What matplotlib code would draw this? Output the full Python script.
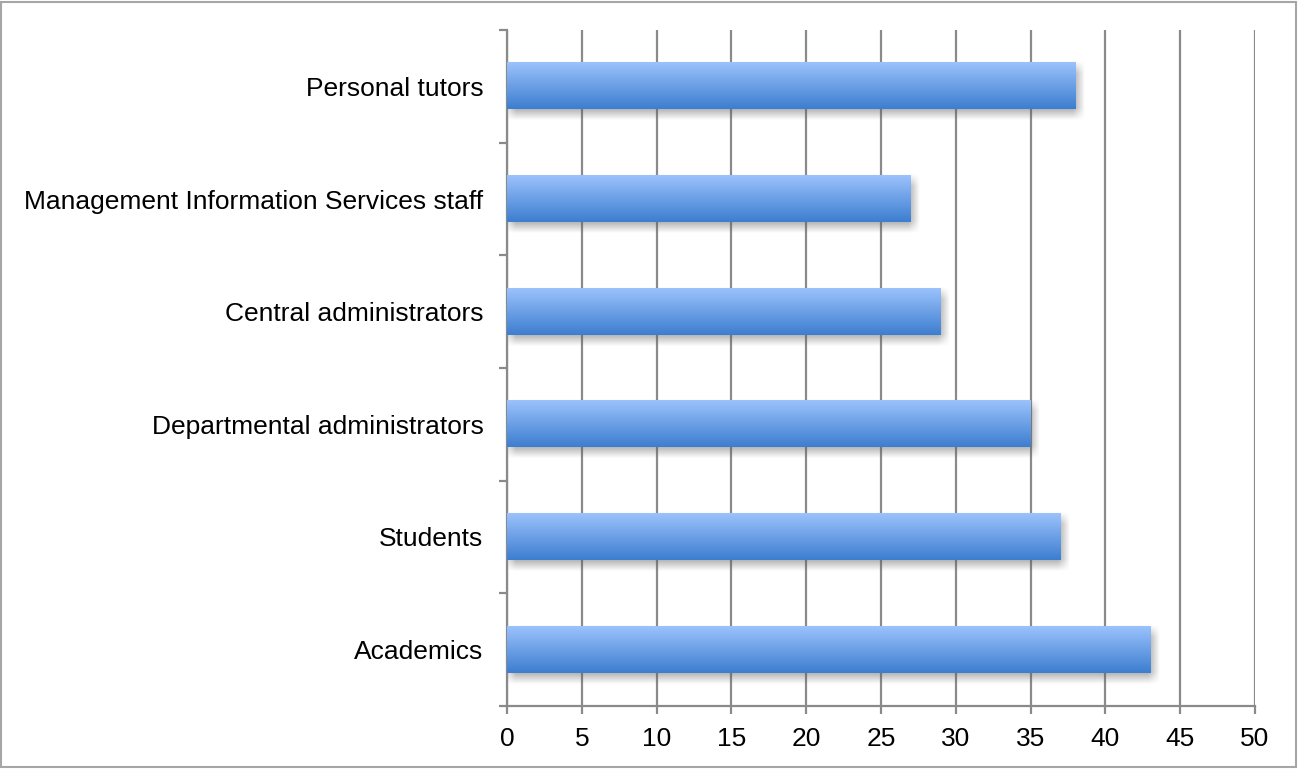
import numpy as np
import matplotlib
matplotlib.use("Agg")
import matplotlib.pyplot as plt
from matplotlib.patches import Rectangle

plt.rcParams["font.family"] = ["Liberation Sans", "DejaVu Sans"]

# Bottom-to-top order of the horizontal bars
categories = [
    "Academics",
    "Students",
    "Departmental administrators",
    "Central administrators",
    "Management Information Services staff",
    "Personal tutors",
]
counts = [43, 37, 35, 29, 27, 38]
x_ticks = [0, 5, 10, 15, 20, 25, 30, 35, 40, 45, 50]

W, H, DPI = 1299, 769, 100
GRID = "#8a8a8a"
TOP_BLUE = np.array([0x9b, 0xc2, 0xfc]) / 255
BOT_BLUE = np.array([0x3d, 0x7e, 0xd0]) / 255
BAR_H = 0.41

fig = plt.figure(figsize=(W / DPI, H / DPI), dpi=DPI)
ax = fig.add_axes([507 / W, (H - 706) / H, (1255 - 507) / W, (706 - 30) / H])
ax.set_xlim(0, 50)
ax.set_ylim(-0.5, len(categories) - 0.5)

# data units per pixel
px_x = 50 / (1255 - 507)
px_y = len(categories) / (706 - 30)


def soft_shadow(x0, x1, y0, y1):
    # blurred grey box, shifted a little right and down
    dx, dy, blur = 3 * px_x, -5 * px_y, 6
    ex0, ex1 = x0 + dx - blur * px_x, x1 + dx + blur * px_x
    ey0, ey1 = y0 + dy - blur * px_y, y1 + dy + blur * px_y
    nx = int(round((ex1 - ex0) / px_x))
    ny = int(round((ey1 - ey0) / px_y))
    xs = np.arange(nx) + 0.5
    ys = np.arange(ny) + 0.5
    ax_ = np.clip(np.minimum(xs, nx - xs) / (2 * blur), 0, 1)
    ay_ = np.clip(np.minimum(ys, ny - ys) / (2 * blur), 0, 1)
    alpha = np.outer(ay_, ax_) * 0.5
    img = np.zeros((ny, nx, 4))
    img[..., :3] = 0.35
    img[..., 3] = alpha
    ax.imshow(img, extent=[ex0, ex1, ey0, ey1], aspect="auto",
              interpolation="bilinear", zorder=2)


def gradient_bar(y, value):
    y0, y1 = y - BAR_H / 2, y + BAR_H / 2
    soft_shadow(0, value, y0, y1)
    t = np.linspace(0, 1, 64)[:, None]
    rows = TOP_BLUE * (1 - t) + BOT_BLUE * t
    img = np.repeat(rows[:, None, :], 2, axis=1)
    ax.imshow(img, extent=[0, value, y0, y1], aspect="auto",
              interpolation="bilinear", zorder=3)


for i, v in enumerate(counts):
    gradient_bar(i, v)

ax.set_xlim(0, 50)
ax.set_ylim(-0.5, len(categories) - 0.5)

ax.set_xticks(x_ticks)
ax.set_yticks(range(len(categories)))
ax.set_yticklabels(categories)
ax.set_yticks(np.arange(-0.5, len(categories)), minor=True)

ax.grid(axis="x", color=GRID, linewidth=1.6, zorder=1)
ax.set_axisbelow(True)
for side in ("top", "right"):
    ax.spines[side].set_visible(False)
for side in ("left", "bottom"):
    ax.spines[side].set_color(GRID)
    ax.spines[side].set_linewidth(1.6)

ax.tick_params(axis="y", which="major", length=0, pad=17, labelsize=19)
ax.tick_params(axis="y", which="minor", length=6, width=1.6, color=GRID,
               direction="out")
ax.tick_params(axis="x", length=6, width=1.6, color=GRID, direction="out",
               pad=9, labelsize=19)

fig.patches.append(Rectangle((0.001, 0.002), 0.997, 0.995,
                             transform=fig.transFigure, fill=False,
                             edgecolor="#a6a6a6", linewidth=1.5))

fig.savefig("out.png", dpi=DPI)
